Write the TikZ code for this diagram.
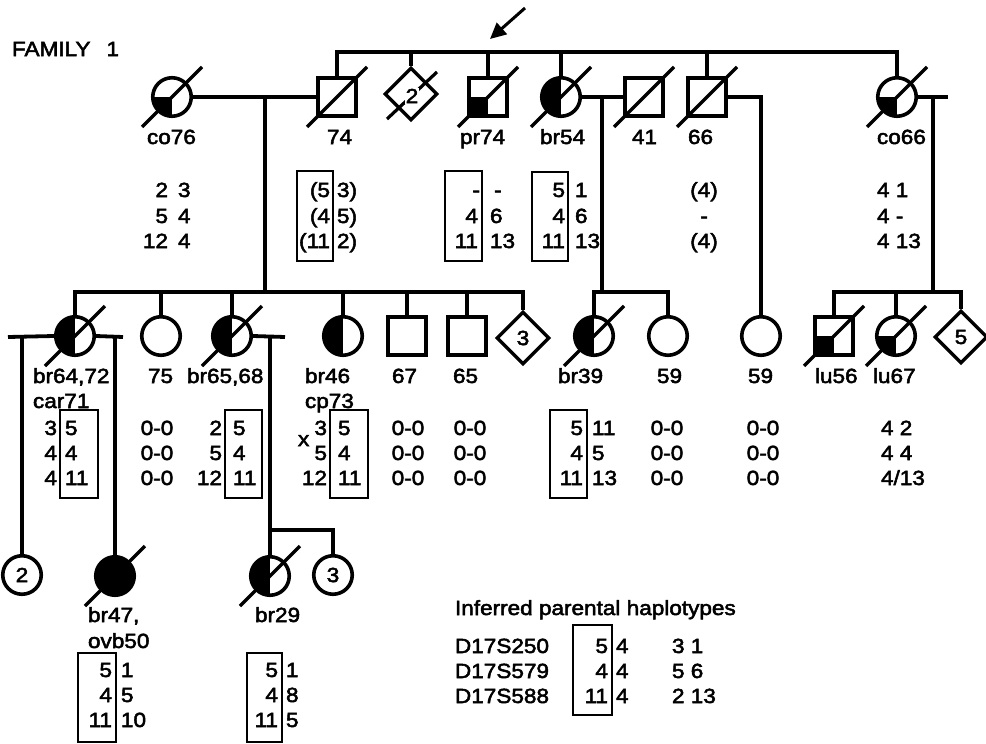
\documentclass[tikz,border=0pt]{standalone}
\usepackage{fontspec}
\setmainfont[FakeStretch=1.1,FakeBold=2.5]{Liberation Sans}
\usetikzlibrary{shapes.geometric,arrows.meta}
\newcommand\FillLeftC[1]{\begin{scope}\clip (#1.center) circle (19.25pt);\fill ([shift={(-25,-25)}]#1.center) rectangle ([shift={(0,25)}]#1.center);\end{scope}}
\newcommand\FillQuadC[1]{\begin{scope}\clip (#1.center) circle (19.25pt);\fill (#1.center) rectangle ([shift={(-25,25)}]#1.center);\end{scope}}
\newcommand\FillQuadS[1]{\fill (#1.center) rectangle (#1.south west);}
\newcommand\SlashOn[1]{\draw[slash] ([shift={(-30,30)}]#1.center) -- ([shift={(30,-30)}]#1.center);}
\newcommand\GT[6]{\node[txt,anchor=base east] (#1l) at (#2,#4) {#5};\node[txt,anchor=base west] (#1r) at (#3,#4) {#6};}
\begin{document}
\begin{tikzpicture}[x=1pt,y=-1pt,
  every node/.style={font=\fontsize{20.5}{24}\selectfont},
  fem/.style={circle,draw,line width=3.6pt,minimum size=38.5pt,inner sep=0pt},
  mal/.style={rectangle,draw,line width=3.6pt,minimum size=38.5pt,inner sep=0pt},
  unk/.style={diamond,draw,line width=3.3pt,minimum size=53pt,inner sep=0pt},
  slash/.style={line width=3.2pt},
  con/.style={line width=3.8pt},
  txt/.style={inner sep=0pt,outer sep=0pt},
  gbox/.style={line width=1.9pt}
]
\useasboundingbox (0,0) rectangle (986,744);

% title
\node[txt,anchor=base west] (fam) at (12,56) {FAMILY\hspace{16pt}1};

% generation I
\node[fem] (co76) at (172,97) {};
\node[mal] (s74) at (337,97) {};
\node[unk] (d2) at (411,94) {};
\node[mal] (pr74) at (488,97) {};
\node[fem] (br54) at (561,97) {};
\node[mal] (s41) at (644,97) {};
\node[mal] (s66) at (707,97) {};
\node[fem] (co66) at (897,97) {};

% generation II
\node[fem] (br64) at (75,336) {};
\node[fem] (c75) at (161,336) {};
\node[fem] (br65) at (232,336) {};
\node[fem] (br46) at (343,336) {};
\node[mal] (s67) at (407,336) {};
\node[mal] (s65) at (467,336) {};
\node[unk] (d3) at (523,338) {3};
\node[fem] (br39) at (594,336) {};
\node[fem] (c59a) at (668,336) {};
\node[fem] (c59b) at (761,336) {};
\node[mal] (lu56) at (834,336) {};
\node[fem] (lu67) at (896,336) {};
\node[unk] (d5) at (961,337) {5};

% generation III
\node[fem] (c2) at (22,575) {2};
\node[fem,fill=black] (br47) at (115,576) {};
\node[fem] (br29) at (270,576) {};
\node[fem] (c3) at (333,575) {3};

% fills
\FillQuadC{co76}
\FillQuadS{pr74}
\FillLeftC{br54}
\FillQuadC{co66}
\FillLeftC{br64}
\FillLeftC{br65}
\FillLeftC{br46}
\FillLeftC{br39}
\FillQuadS{lu56}
\FillQuadC{lu67}
\FillLeftC{br29}

% slashes
\SlashOn{co76}\SlashOn{s74}\SlashOn{pr74}\SlashOn{br54}\SlashOn{s41}\SlashOn{s66}\SlashOn{co66}
\SlashOn{br64}\SlashOn{br65}\SlashOn{br39}\SlashOn{lu56}\SlashOn{lu67}
\SlashOn{br47}\SlashOn{br29}
\draw[slash] ([shift={(-24,25)}]d2.center) -- ([shift={(26,-22)}]d2.center);
\node[txt,fill=white,inner sep=1pt] (d2t) at (412,96) {2};

% proband arrow
\coordinate (arT) at (525,8);
\coordinate (arH) at (490,39);
\draw[line width=3pt,-{Triangle[length=16pt,width=15pt]}] (arT) -- (arH);

% connectors generation I
\coordinate (sib1) at (0,52);
\draw[con] (s74.north) -- (s74.north |- sib1) -- (co66.north |- sib1) -- (co66.north);
\draw[con] (d2.north) -- (d2.north |- sib1);
\draw[con] (pr74.north) -- (pr74.north |- sib1);
\draw[con] (br54.north) -- (br54.north |- sib1);
\draw[con] (s66.north) -- (s66.north |- sib1);

\coordinate (sib2) at (0,292);
\draw[con] (co76.east) -- (s74.west);
\coordinate (m1) at (265,97);
\draw[con] (m1) -- (m1 |- sib2);
\draw[con] (br64.north) -- (br64.north |- sib2) -- (d3.north |- sib2) -- (d3.north);
\draw[con] (c75.north) -- (c75.north |- sib2);
\draw[con] (br65.north) -- (br65.north |- sib2);
\draw[con] (br46.north) -- (br46.north |- sib2);
\draw[con] (s67.north) -- (s67.north |- sib2);
\draw[con] (s65.north) -- (s65.north |- sib2);

\draw[con] (br54.east) -- (s41.west);
\coordinate (m2) at (602,97);
\draw[con] (m2) -- (m2 |- sib2);
\draw[con] (br39.north) -- (br39.north |- sib2) -- (c59a.north |- sib2) -- (c59a.north);

\draw[con] (s66.east) -| (c59b.north);

\coordinate (e66) at (948,97);
\draw[con] (co66.east) -- (e66);
\coordinate (m3) at (933,97);
\draw[con] (m3) -- (m3 |- sib2);
\draw[con] (lu56.north) -- (lu56.north |- sib2) -- (d5.north |- sib2) -- (d5.north);
\draw[con] (lu67.north) -- (lu67.north |- sib2);

% connectors generation II -> III
\coordinate (sp1) at (8,337);
\coordinate (sp2) at (123,337);
\draw[con] (sp1) -- (br64.west);
\draw[con] (br64.east) -- (sp2);
\coordinate (v1) at (22,337);
\draw[con] (v1) -- (c2.north);
\coordinate (v2) at (115,337);
\draw[con] (v2) -- (br47.north);
\coordinate (sp3) at (285,337);
\draw[con] (br65.east) -- (sp3);
\coordinate (v3) at (270,337);
\draw[con] (v3) -- (br29.north);
\coordinate (j3) at (270,530);
\draw[con] (j3) -| (c3.north);

% labels generation I
\node[txt,anchor=base west] (lco76) at (147,144) {co76};
\node[txt,anchor=base west] (l74) at (327,144) {74};
\node[txt,anchor=base west] (lpr74) at (460,144) {pr74};
\node[txt,anchor=base west] (lbr54) at (540,144) {br54};
\node[txt,anchor=base west] (l41) at (632,144) {41};
\node[txt,anchor=base west] (l66) at (688,144) {66};
\node[txt,anchor=base west] (lco66) at (877,144) {co66};

% labels generation II
\node[txt,anchor=base west] (lbr64) at (33,383) {br64,72};
\node[txt,anchor=base west] (lcar) at (33,408) {car71};
\node[txt,anchor=base west] (l75) at (148,383) {75};
\node[txt,anchor=base west] (lbr65) at (187,383) {br65,68};
\node[txt,anchor=base west] (lbr46) at (305,383) {br46};
\node[txt,anchor=base west] (lcp) at (305,408) {cp73};
\node[txt,anchor=base west] (l67) at (392,383) {67};
\node[txt,anchor=base west] (l65) at (453,383) {65};
\node[txt,anchor=base west] (lbr39) at (558,383) {br39};
\node[txt,anchor=base west] (l59a) at (657,383) {59};
\node[txt,anchor=base west] (l59b) at (748,383) {59};
\node[txt,anchor=base west] (llu56) at (815,383) {lu56};
\node[txt,anchor=base west] (llu67) at (873,383) {lu67};

% labels generation III
\node[txt,anchor=base west] (lbr47) at (88,622) {br47,};
\node[txt,anchor=base west] (lovb) at (88,648) {ovb50};
\node[txt,anchor=base west] (lbr29) at (255,622) {br29};

% genotypes generation I
\GT{gco76a}{168}{178}{197}{2}{3}
\GT{gco76b}{168}{178}{223}{5}{4}
\GT{gco76c}{168}{178}{248}{12}{4}
\draw[gbox] (297,171) rectangle (333,261);
\GT{g74a}{330}{337}{197}{(5}{3)}
\GT{g74b}{330}{337}{223}{(4}{5)}
\GT{g74c}{330}{337}{248}{(11}{2)}
\draw[gbox] (445,171) rectangle (482,261);
\GT{gpra}{480}{494}{197}{-}{-}
\GT{gprb}{478}{490}{223}{4}{6}
\GT{gprc}{478}{490}{248}{11}{13}
\draw[gbox] (532,172) rectangle (568,261);
\GT{gbr54a}{565}{575}{197}{5}{1}
\GT{gbr54b}{565}{575}{223}{4}{6}
\GT{gbr54c}{565}{575}{248}{11}{13}
\node[txt,anchor=base] (g66a) at (704,197) {(4)};
\node[txt,anchor=base] (g66b) at (704,223) {-};
\node[txt,anchor=base] (g66c) at (704,248) {(4)};
\node[txt,anchor=base west] (gco66a) at (877,197) {4 1};
\node[txt,anchor=base west] (gco66b) at (877,223) {4 -};
\node[txt,anchor=base west] (gco66c) at (877,248) {4 13};

% genotypes generation II
\draw[gbox] (60,410) rectangle (98,498);
\GT{gbr64a}{57}{65}{435}{3}{5}
\GT{gbr64b}{57}{65}{460}{4}{4}
\GT{gbr64c}{57}{65}{485}{4}{11}
\node[txt,anchor=base] (g75a) at (157,435) {0-0};
\node[txt,anchor=base] (g75b) at (157,460) {0-0};
\node[txt,anchor=base] (g75c) at (157,485) {0-0};
\draw[gbox] (225,410) rectangle (262,498);
\GT{gbr65a}{222}{233}{435}{2}{5}
\GT{gbr65b}{222}{233}{460}{5}{4}
\GT{gbr65c}{222}{233}{485}{12}{11}
\node[txt,anchor=base west] (gx) at (298,446) {x};
\draw[gbox] (330,410) rectangle (368,498);
\GT{gbr46a}{327}{338}{435}{3}{5}
\GT{gbr46b}{327}{338}{460}{5}{4}
\GT{gbr46c}{327}{338}{485}{12}{11}
\node[txt,anchor=base] (g67a) at (408,435) {0-0};
\node[txt,anchor=base] (g67b) at (408,460) {0-0};
\node[txt,anchor=base] (g67c) at (408,485) {0-0};
\node[txt,anchor=base] (g65a) at (470,435) {0-0};
\node[txt,anchor=base] (g65b) at (470,460) {0-0};
\node[txt,anchor=base] (g65c) at (470,485) {0-0};
\draw[gbox] (550,410) rectangle (587,498);
\GT{gbr39a}{583}{592}{435}{5}{11}
\GT{gbr39b}{583}{592}{460}{4}{5}
\GT{gbr39c}{583}{592}{485}{11}{13}
\node[txt,anchor=base] (g59a) at (667,435) {0-0};
\node[txt,anchor=base] (g59b) at (667,460) {0-0};
\node[txt,anchor=base] (g59c) at (667,485) {0-0};
\node[txt,anchor=base] (g59d) at (763,435) {0-0};
\node[txt,anchor=base] (g59e) at (763,460) {0-0};
\node[txt,anchor=base] (g59f) at (763,485) {0-0};
\node[txt,anchor=base west] (glu67a) at (881,435) {4 2};
\node[txt,anchor=base west] (glu67b) at (881,460) {4 4};
\node[txt,anchor=base west] (glu67c) at (881,485) {4/13};

% genotypes generation III
\draw[gbox] (78,653) rectangle (116,742);
\GT{gbr47a}{112}{121}{677}{5}{1}
\GT{gbr47b}{112}{121}{702}{4}{5}
\GT{gbr47c}{112}{121}{727}{11}{10}
\draw[gbox] (247,653) rectangle (282,742);
\GT{gbr29a}{278}{286}{677}{5}{1}
\GT{gbr29b}{278}{286}{702}{4}{8}
\GT{gbr29c}{278}{286}{727}{11}{5}

% inferred haplotypes
\node[txt,anchor=base west] (htitle) at (455,615) {Inferred parental haplotypes};
\node[txt,anchor=base west] (hm1) at (455,653) {D17S250};
\node[txt,anchor=base west] (hm2) at (455,678) {D17S579};
\node[txt,anchor=base west] (hm3) at (455,703) {D17S588};
\draw[gbox] (573,625) rectangle (612,715);
\GT{hpa}{608}{616}{653}{5}{4}
\GT{hpb}{608}{616}{678}{4}{4}
\GT{hpc}{608}{616}{703}{11}{4}
\node[txt,anchor=base west] (hq1) at (672,653) {3 1};
\node[txt,anchor=base west] (hq2) at (672,678) {5 6};
\node[txt,anchor=base west] (hq3) at (672,703) {2 13};
\end{tikzpicture}
\end{document}
